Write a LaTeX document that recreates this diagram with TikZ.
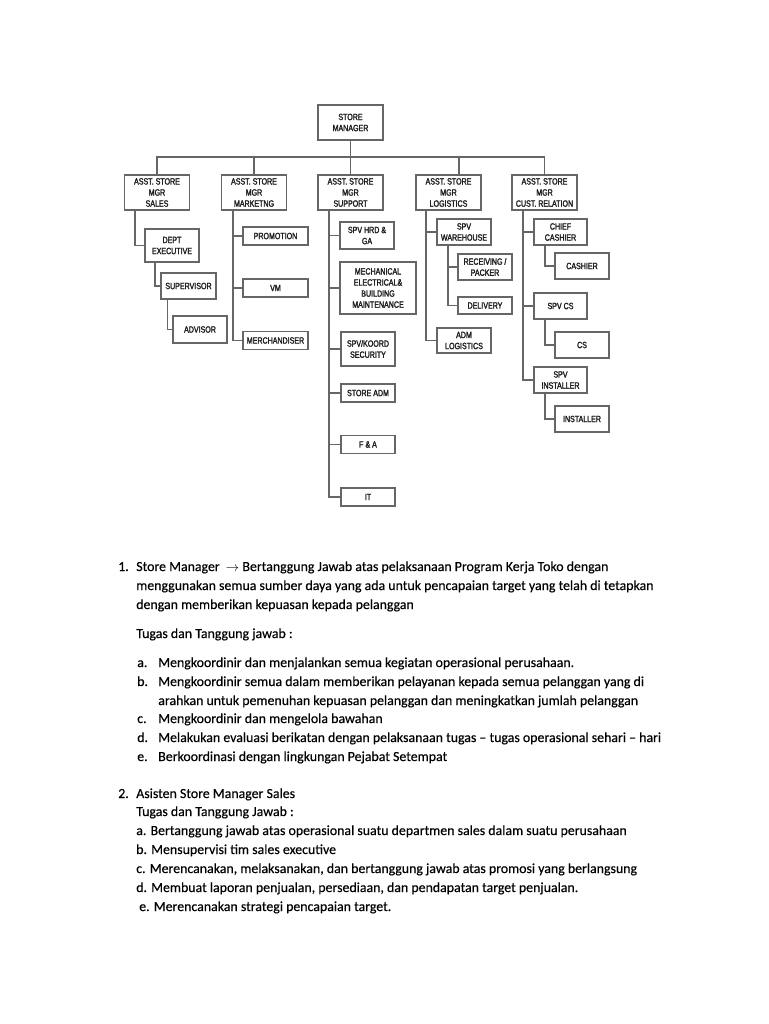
\documentclass[tikz,border=0pt]{standalone}
\usepackage{fontspec}
\setmainfont[FakeBold=0.35]{Carlito}
\newfontfamily\chartfont[FakeStretch=0.78,FakeBold=2]{Liberation Sans}
\begin{document}
\begin{tikzpicture}[x=0.75pt,y=-0.75pt,
  line/.style={draw=black!60,line width=1.1pt},
  box/.style={draw=black!60,line width=1.1pt,fill=white,inner sep=0pt,align=center,
     font=\chartfont\fontsize{6.8}{8.3}\selectfont,text=black!88},
  txt/.style={anchor=base west,inner sep=0pt,font=\fontsize{10.4}{12}\selectfont,text=black}]
\useasboundingbox (0,0) rectangle (768,1024);
% ---- boxes
\node[box,minimum width=48.75pt,minimum height=26.25pt] (sm) at (350.5,122.5) {STORE\\MANAGER};
\foreach \n/\cx/\t in {sales/157/SALES,mkt/254/MARKETNG,sup/350.5/SUPPORT,log/448.5/LOGISTICS,cust/544.5/CUST. RELATION}
  \node[box,minimum width=48.75pt,minimum height=26.25pt] (\n) at (\cx,192.5) {ASST. STORE\\MGR\\\t};
% sales column
\node[box,minimum width=40.5pt,minimum height=24.75pt] (dept) at (172,245.5) {DEPT\\EXECUTIVE};
\node[box,minimum width=41.25pt,minimum height=19.5pt] (supv) at (188.5,286) {SUPERVISOR};
\node[box,minimum width=40.5pt,minimum height=20.25pt] (adv) at (200,329.5) {ADVISOR};
% marketing column
\node[box,minimum width=48.75pt,minimum height=13.5pt] (promo) at (275.5,236) {PROMOTION};
\node[box,minimum width=48.75pt,minimum height=13.5pt] (vm) at (275.5,288) {VM};
\node[box,minimum width=48.75pt,minimum height=13.5pt] (merch) at (275.5,340.5) {MERCHANDISER};
% support column
\node[box,minimum width=40.5pt,minimum height=20.25pt] (hrd) at (367,235.5) {SPV HRD \&\\GA};
\node[box,minimum width=57pt,minimum height=39pt] (mech) at (378,288) {MECHANICAL\\ELECTRICAL\&\\BUILDING\\MAINTENANCE};
\node[box,minimum width=40.5pt,minimum height=25.5pt] (sec) at (368,349) {SPV/KOORD\\SECURITY};
\node[box,minimum width=40.5pt,minimum height=13.5pt] (sadm) at (368,393) {STORE ADM};
\node[box,minimum width=40.5pt,minimum height=13.5pt] (fa) at (368,444.5) {F \& A};
\node[box,minimum width=40.5pt,minimum height=13.5pt] (it) at (368,497) {IT};
% logistics column
\node[box,minimum width=40.5pt,minimum height=19.5pt] (whs) at (464,232) {SPV\\WAREHOUSE};
\node[box,minimum width=40.5pt,minimum height=19.5pt] (recv) at (485,267) {RECEIVING /\\PACKER};
\node[box,minimum width=40.5pt,minimum height=13pt] (deliv) at (485,305.5) {DELIVERY};
\node[box,minimum width=40.5pt,minimum height=18.75pt] (admlog) at (464,340.5) {ADM\\LOGISTICS};
% customer relation column
\node[box,minimum width=39.75pt,minimum height=19.5pt] (chief) at (560.5,232) {CHIEF\\CASHIER};
\node[box,minimum width=40.5pt,minimum height=19.5pt] (cashier) at (582,266) {CASHIER};
\node[box,minimum width=39.75pt,minimum height=19.5pt] (spvcs) at (560.5,306) {SPV CS};
\node[box,minimum width=40.5pt,minimum height=19.5pt] (cs) at (582,345) {CS};
\node[box,minimum width=39.75pt,minimum height=19.5pt] (spvinst) at (560.5,380) {SPV\\INSTALLER};
\node[box,minimum width=40.5pt,minimum height=19.5pt] (inst) at (582,419) {INSTALLER};
% ---- coordinates for spines
\coordinate (bar) at (350.5,157);
\coordinate (lgx) at (459,0);
\coordinate (sx) at (135,0);
\coordinate (sx2) at (155,0);
\coordinate (sx3) at (167.5,0);
\coordinate (mx) at (233,0);
\coordinate (px) at (329,0);
\coordinate (lx) at (426,0);
\coordinate (lx2) at (448,0);
\coordinate (cx) at (523,0);
\coordinate (cx2) at (545,0);
% ---- connectors
\draw[line] (sm.south) -- (sup.north);
\draw[line] (sales.north) |- (bar) -| (cust.north);
\draw[line] (mkt.north) -- (mkt.north |- bar);
\draw[line] (log.north -| lgx) -- (bar -| lgx);
% sales
\draw[line] (sales.south -| sx) |- (dept.west);
\draw[line] (dept.south -| sx2) |- (supv.west);
\draw[line] (supv.south -| sx3) |- (adv.west);
% marketing
\draw[line] (mkt.south -| mx) |- (merch.west);
\draw[line] (promo.west) -- (promo.west -| mx);
\draw[line] (vm.west) -- (vm.west -| mx);
% support
\draw[line] (sup.south -| px) |- (it.west);
\foreach \b in {hrd,mech,sec,sadm,fa}
  \draw[line] (\b.west) -- (\b.west -| px);
% logistics
\draw[line] (log.south -| lx) |- (admlog.west);
\draw[line] (whs.west) -- (whs.west -| lx);
\draw[line] (whs.south -| lx2) |- (deliv.west);
\draw[line] (recv.west) -- (recv.west -| lx2);
% customer relation
\draw[line] (cust.south -| cx) |- (spvinst.west);
\draw[line] (chief.west) -- (chief.west -| cx);
\draw[line] (spvcs.west) -- (spvcs.west -| cx);
\draw[line] (chief.south -| cx2) |- (cashier.west);
\draw[line] (spvcs.south -| cx2) |- (cs.west);
\draw[line] (spvinst.south -| cx2) |- (inst.west);
% ---- text
\node[txt] (n1) at (118,571) {1.};
\node[txt] (t1a) at (136,571) {Store Manager \ $\rightarrow$ Bertanggung Jawab atas pelaksanaan Program Kerja Toko dengan};
\node[txt] (t1b) at (136,590) {menggunakan semua sumber daya yang ada untuk pencapaian target yang telah di tetapkan};
\node[txt] (t1c) at (136,609) {dengan memberikan kepuasan kepada pelanggan};
\node[txt] (t1d) at (136,638) {Tugas dan Tanggung jawab :};
\node[txt] (la) at (137,667) {a.};
\node[txt] (ta) at (158,667) {Mengkoordinir dan menjalankan semua kegiatan operasional perusahaan.};
\node[txt] (lb) at (137,686) {b.};
\node[txt] (tb) at (158,686) {Mengkoordinir semua dalam memberikan pelayanan kepada semua pelanggan yang di};
\node[txt] (tb2) at (158,705) {arahkan untuk pemenuhan kepuasan pelanggan dan meningkatkan jumlah pelanggan};
\node[txt] (lc) at (137,723) {c.};
\node[txt] (tc) at (158,723) {Mengkoordinir dan mengelola bawahan};
\node[txt] (ld) at (137,742) {d.};
\node[txt] (td) at (158,742) {Melakukan evaluasi berikatan dengan pelaksanaan tugas -- tugas operasional sehari -- hari};
\node[txt] (le) at (137,761) {e.};
\node[txt] (te) at (158,761) {Berkoordinasi dengan lingkungan Pejabat Setempat};
\node[txt] (n2) at (118,798) {2.};
\node[txt] (s2a) at (136,798) {Asisten Store Manager Sales};
\node[txt] (s2b) at (136,816) {Tugas dan Tanggung Jawab :};
\node[txt] (s2c) at (136,835) {a. Bertanggung jawab atas operasional suatu departmen sales dalam suatu perusahaan};
\node[txt] (s2d) at (136,854) {b. Mensupervisi tim sales executive};
\node[txt] (s2e) at (136,873) {c. Merencanakan, melaksanakan, dan bertanggung jawab atas promosi yang berlangsung};
\node[txt] (s2f) at (136,892) {d. Membuat laporan penjualan, persediaan, dan pendapatan target penjualan.};
\node[txt] (s2g) at (139,911) {e. Merencanakan strategi pencapaian target.};
\end{tikzpicture}
\end{document}
